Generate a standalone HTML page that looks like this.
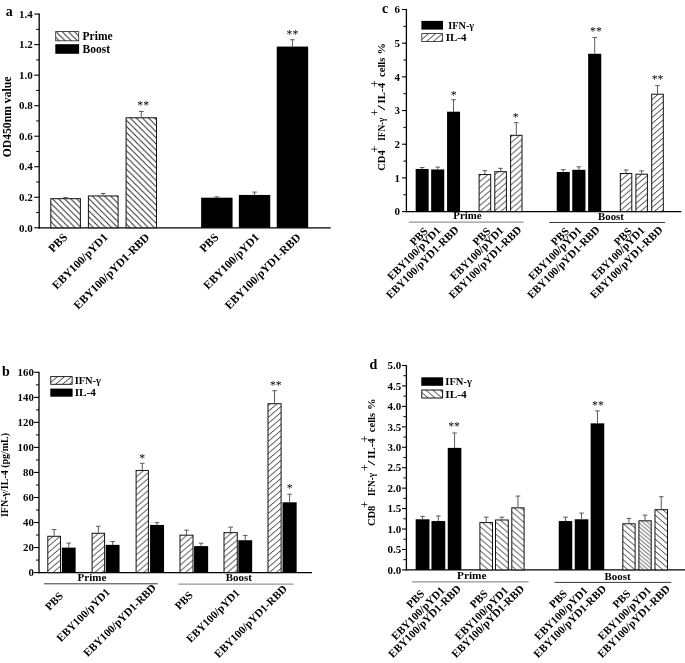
<!DOCTYPE html>
<html lang="en"><head><meta charset="utf-8"><title>Figure</title>
<style>html,body{margin:0;padding:0;background:#fff}svg{display:block}text{font-family:"Liberation Serif",serif;fill:#000}</style></head><body>
<svg width="685" height="663" viewBox="0 0 685 663">
<rect width="685" height="663" fill="#fff"/>
<defs>
<pattern id="hbA" patternUnits="userSpaceOnUse" width="6.1" height="6.1" x="0" y="0"><rect width="6.1" height="6.1" fill="#fff"/><path d="M-1.52,-1.52 L7.62,7.62 M-1.52,4.57 L1.52,7.62 M4.57,-1.52 L7.62,1.52" stroke="#1a1a1a" stroke-width="0.9"/></pattern>
<pattern id="hbD" patternUnits="userSpaceOnUse" width="6.98" height="6" x="0" y="0"><rect width="6.98" height="6" fill="#fff"/><path d="M-1.74,-1.5 L8.72,7.5 M-1.74,4.5 L1.74,7.5 M5.23,-1.5 L8.72,1.5" stroke="#1a1a1a" stroke-width="0.88"/></pattern>
<pattern id="hbD2" patternUnits="userSpaceOnUse" width="4.53" height="3.9" x="0" y="0"><rect width="4.53" height="3.9" fill="#fff"/><path d="M-1.13,-0.97 L5.67,4.88 M-1.13,2.92 L1.13,4.88 M3.4,-0.97 L5.67,0.97" stroke="#1a1a1a" stroke-width="0.75"/></pattern>
<pattern id="hs" patternUnits="userSpaceOnUse" width="6.98" height="6" x="0" y="0"><rect width="6.98" height="6" fill="#fff"/><path d="M-1.74,7.5 L8.72,-1.5 M-1.74,1.5 L1.74,-1.5 M5.23,7.5 L8.72,4.5" stroke="#1a1a1a" stroke-width="0.9"/></pattern>
</defs>
<text x="5.7" y="15.7" font-size="14" text-anchor="start" font-weight="bold">a</text>
<line x1="39.2" y1="13.5" x2="39.2" y2="228.4" stroke="#000" stroke-width="1.3"/>
<line x1="34.2" y1="227.8" x2="39.2" y2="227.8" stroke="#000" stroke-width="1.1"/>
<text x="32.7" y="231.5" font-size="11" text-anchor="end" font-weight="bold">0.0</text>
<line x1="36.2" y1="212.54" x2="39.2" y2="212.54" stroke="#000" stroke-width="1"/>
<line x1="34.2" y1="197.27" x2="39.2" y2="197.27" stroke="#000" stroke-width="1.1"/>
<text x="32.7" y="200.97" font-size="11" text-anchor="end" font-weight="bold">0.2</text>
<line x1="36.2" y1="182.01" x2="39.2" y2="182.01" stroke="#000" stroke-width="1"/>
<line x1="34.2" y1="166.74" x2="39.2" y2="166.74" stroke="#000" stroke-width="1.1"/>
<text x="32.7" y="170.44" font-size="11" text-anchor="end" font-weight="bold">0.4</text>
<line x1="36.2" y1="151.48" x2="39.2" y2="151.48" stroke="#000" stroke-width="1"/>
<line x1="34.2" y1="136.21" x2="39.2" y2="136.21" stroke="#000" stroke-width="1.1"/>
<text x="32.7" y="139.91" font-size="11" text-anchor="end" font-weight="bold">0.6</text>
<line x1="36.2" y1="120.95" x2="39.2" y2="120.95" stroke="#000" stroke-width="1"/>
<line x1="34.2" y1="105.69" x2="39.2" y2="105.69" stroke="#000" stroke-width="1.1"/>
<text x="32.7" y="109.39" font-size="11" text-anchor="end" font-weight="bold">0.8</text>
<line x1="36.2" y1="90.42" x2="39.2" y2="90.42" stroke="#000" stroke-width="1"/>
<line x1="34.2" y1="75.16" x2="39.2" y2="75.16" stroke="#000" stroke-width="1.1"/>
<text x="32.7" y="78.86" font-size="11" text-anchor="end" font-weight="bold">1.0</text>
<line x1="36.2" y1="59.89" x2="39.2" y2="59.89" stroke="#000" stroke-width="1"/>
<line x1="34.2" y1="44.63" x2="39.2" y2="44.63" stroke="#000" stroke-width="1.1"/>
<text x="32.7" y="48.33" font-size="11" text-anchor="end" font-weight="bold">1.2</text>
<line x1="36.2" y1="29.36" x2="39.2" y2="29.36" stroke="#000" stroke-width="1"/>
<line x1="34.2" y1="14.1" x2="39.2" y2="14.1" stroke="#000" stroke-width="1.1"/>
<text x="32.7" y="17.8" font-size="11" text-anchor="end" font-weight="bold">1.4</text>
<line x1="38.6" y1="227.8" x2="330.8" y2="227.8" stroke="#000" stroke-width="1.3"/>
<rect x="50.8" y="198.69" width="29.6" height="29.11" fill="url(#hbA)" stroke="#111" stroke-width="1"/>
<line x1="65.6" y1="198.19" x2="65.6" y2="197.58" stroke="#5a5a5a" stroke-width="1"/>
<line x1="63.3" y1="197.58" x2="67.9" y2="197.58" stroke="#5a5a5a" stroke-width="1"/>
<rect x="88.4" y="195.94" width="29.7" height="31.86" fill="url(#hbA)" stroke="#111" stroke-width="1"/>
<line x1="103.25" y1="195.44" x2="103.25" y2="193.46" stroke="#5a5a5a" stroke-width="1"/>
<line x1="100.95" y1="193.46" x2="105.55" y2="193.46" stroke="#5a5a5a" stroke-width="1"/>
<rect x="126.1" y="117.79" width="30.4" height="110.01" fill="url(#hbA)" stroke="#111" stroke-width="1"/>
<line x1="141.3" y1="117.29" x2="141.3" y2="111.49" stroke="#5a5a5a" stroke-width="1"/>
<line x1="139" y1="111.49" x2="143.6" y2="111.49" stroke="#5a5a5a" stroke-width="1"/>
<rect x="201.15" y="197.68" width="31.4" height="30.12" fill="#000" stroke="none" stroke-width="0.8"/>
<line x1="216.85" y1="197.88" x2="216.85" y2="196.81" stroke="#5a5a5a" stroke-width="1"/>
<line x1="214.55" y1="196.81" x2="219.15" y2="196.81" stroke="#5a5a5a" stroke-width="1"/>
<rect x="238.85" y="194.93" width="31.4" height="32.87" fill="#000" stroke="none" stroke-width="0.8"/>
<line x1="254.55" y1="195.13" x2="254.55" y2="192.08" stroke="#5a5a5a" stroke-width="1"/>
<line x1="252.25" y1="192.08" x2="256.85" y2="192.08" stroke="#5a5a5a" stroke-width="1"/>
<rect x="276.75" y="46.57" width="31.4" height="181.23" fill="#000" stroke="none" stroke-width="0.8"/>
<line x1="292.45" y1="46.77" x2="292.45" y2="39.74" stroke="#5a5a5a" stroke-width="1"/>
<line x1="290.15" y1="39.74" x2="294.75" y2="39.74" stroke="#5a5a5a" stroke-width="1"/>
<text x="143.2" y="108.6" font-size="11.7" text-anchor="middle" font-weight="normal" font-family="Liberation Sans, sans-serif" fill="#222">**</text>
<text x="292.4" y="37.7" font-size="11.7" text-anchor="middle" font-weight="normal" font-family="Liberation Sans, sans-serif" fill="#222">**</text>
<rect x="55.7" y="31.6" width="23" height="9.2" fill="url(#hbA)" stroke="#222" stroke-width="0.8"/>
<rect x="55.3" y="44.2" width="23.8" height="9.6" fill="#000" stroke="none" stroke-width="0.8"/>
<text x="82.6" y="39.8" font-size="11.5" text-anchor="start" font-weight="bold" textLength="30" lengthAdjust="spacingAndGlyphs">Prime</text>
<text x="82.6" y="53" font-size="11.5" text-anchor="start" font-weight="bold" textLength="27.5" lengthAdjust="spacingAndGlyphs">Boost</text>
<text x="10.8" y="157.3" font-size="11.8" text-anchor="start" font-weight="bold" transform="rotate(-90 10.8 157.3)" textLength="80.7" lengthAdjust="spacingAndGlyphs">OD450nm value</text>
<text x="68.1" y="238" font-size="11.6" text-anchor="end" font-weight="bold" transform="rotate(-45 68.1 238)">PBS</text>
<text x="108.65" y="238" font-size="11.6" text-anchor="end" font-weight="bold" transform="rotate(-45 108.65 238)">EBY100/pYD1</text>
<text x="150.2" y="238" font-size="11.6" text-anchor="end" font-weight="bold" transform="rotate(-45 150.2 238)">EBY100/pYD1-RBD</text>
<text x="219.35" y="238" font-size="11.6" text-anchor="end" font-weight="bold" transform="rotate(-45 219.35 238)">PBS</text>
<text x="259.95" y="238" font-size="11.6" text-anchor="end" font-weight="bold" transform="rotate(-45 259.95 238)">EBY100/pYD1</text>
<text x="301.35" y="238" font-size="11.6" text-anchor="end" font-weight="bold" transform="rotate(-45 301.35 238)">EBY100/pYD1-RBD</text>
<text x="381.9" y="12.6" font-size="14" text-anchor="start" font-weight="bold">c</text>
<line x1="406.4" y1="8.9" x2="406.4" y2="212.2" stroke="#000" stroke-width="1.3"/>
<line x1="402" y1="211.6" x2="406.4" y2="211.6" stroke="#000" stroke-width="1.1"/>
<text x="400" y="215.3" font-size="11" text-anchor="end" font-weight="bold">0</text>
<line x1="403.4" y1="194.76" x2="406.4" y2="194.76" stroke="#000" stroke-width="1"/>
<line x1="402" y1="177.92" x2="406.4" y2="177.92" stroke="#000" stroke-width="1.1"/>
<text x="400" y="181.62" font-size="11" text-anchor="end" font-weight="bold">1</text>
<line x1="403.4" y1="161.07" x2="406.4" y2="161.07" stroke="#000" stroke-width="1"/>
<line x1="402" y1="144.23" x2="406.4" y2="144.23" stroke="#000" stroke-width="1.1"/>
<text x="400" y="147.93" font-size="11" text-anchor="end" font-weight="bold">2</text>
<line x1="403.4" y1="127.39" x2="406.4" y2="127.39" stroke="#000" stroke-width="1"/>
<line x1="402" y1="110.55" x2="406.4" y2="110.55" stroke="#000" stroke-width="1.1"/>
<text x="400" y="114.25" font-size="11" text-anchor="end" font-weight="bold">3</text>
<line x1="403.4" y1="93.71" x2="406.4" y2="93.71" stroke="#000" stroke-width="1"/>
<line x1="402" y1="76.87" x2="406.4" y2="76.87" stroke="#000" stroke-width="1.1"/>
<text x="400" y="80.57" font-size="11" text-anchor="end" font-weight="bold">4</text>
<line x1="403.4" y1="60.03" x2="406.4" y2="60.03" stroke="#000" stroke-width="1"/>
<line x1="402" y1="43.18" x2="406.4" y2="43.18" stroke="#000" stroke-width="1.1"/>
<text x="400" y="46.88" font-size="11" text-anchor="end" font-weight="bold">5</text>
<line x1="403.4" y1="26.34" x2="406.4" y2="26.34" stroke="#000" stroke-width="1"/>
<line x1="402" y1="9.5" x2="406.4" y2="9.5" stroke="#000" stroke-width="1.1"/>
<text x="400" y="13.2" font-size="11" text-anchor="end" font-weight="bold">6</text>
<line x1="405.8" y1="211.6" x2="681.3" y2="211.6" stroke="#000" stroke-width="1.3"/>
<rect x="415.65" y="168.96" width="13" height="42.64" fill="#000" stroke="none" stroke-width="0.8"/>
<line x1="422.15" y1="169.16" x2="422.15" y2="167.47" stroke="#5a5a5a" stroke-width="1"/>
<line x1="419.85" y1="167.47" x2="424.45" y2="167.47" stroke="#5a5a5a" stroke-width="1"/>
<rect x="431.15" y="169.46" width="13.1" height="42.14" fill="#000" stroke="none" stroke-width="0.8"/>
<line x1="437.7" y1="169.66" x2="437.7" y2="167.14" stroke="#5a5a5a" stroke-width="1"/>
<line x1="435.4" y1="167.14" x2="440" y2="167.14" stroke="#5a5a5a" stroke-width="1"/>
<rect x="447.05" y="111.7" width="13" height="99.9" fill="#000" stroke="none" stroke-width="0.8"/>
<line x1="453.55" y1="111.9" x2="453.55" y2="99.77" stroke="#5a5a5a" stroke-width="1"/>
<line x1="451.25" y1="99.77" x2="455.85" y2="99.77" stroke="#5a5a5a" stroke-width="1"/>
<rect x="479.1" y="174.54" width="11.6" height="37.06" fill="url(#hs)" stroke="#111" stroke-width="1"/>
<line x1="484.9" y1="174.04" x2="484.9" y2="170.67" stroke="#5a5a5a" stroke-width="1"/>
<line x1="482.6" y1="170.67" x2="487.2" y2="170.67" stroke="#5a5a5a" stroke-width="1"/>
<rect x="494.8" y="171.68" width="11.6" height="39.92" fill="url(#hs)" stroke="#111" stroke-width="1"/>
<line x1="500.6" y1="171.18" x2="500.6" y2="168.32" stroke="#5a5a5a" stroke-width="1"/>
<line x1="498.3" y1="168.32" x2="502.9" y2="168.32" stroke="#5a5a5a" stroke-width="1"/>
<rect x="510.6" y="135.3" width="11.4" height="76.3" fill="url(#hs)" stroke="#111" stroke-width="1"/>
<line x1="516.3" y1="134.8" x2="516.3" y2="122.68" stroke="#5a5a5a" stroke-width="1"/>
<line x1="514" y1="122.68" x2="518.6" y2="122.68" stroke="#5a5a5a" stroke-width="1"/>
<rect x="556.75" y="171.99" width="13" height="39.61" fill="#000" stroke="none" stroke-width="0.8"/>
<line x1="563.25" y1="172.19" x2="563.25" y2="169.66" stroke="#5a5a5a" stroke-width="1"/>
<line x1="560.95" y1="169.66" x2="565.55" y2="169.66" stroke="#5a5a5a" stroke-width="1"/>
<rect x="572.25" y="169.8" width="13.2" height="41.8" fill="#000" stroke="none" stroke-width="0.8"/>
<line x1="578.85" y1="170" x2="578.85" y2="166.8" stroke="#5a5a5a" stroke-width="1"/>
<line x1="576.55" y1="166.8" x2="581.15" y2="166.8" stroke="#5a5a5a" stroke-width="1"/>
<rect x="588.15" y="53.76" width="13.1" height="157.84" fill="#000" stroke="none" stroke-width="0.8"/>
<line x1="594.7" y1="53.96" x2="594.7" y2="37.46" stroke="#5a5a5a" stroke-width="1"/>
<line x1="592.4" y1="37.46" x2="597" y2="37.46" stroke="#5a5a5a" stroke-width="1"/>
<rect x="620.3" y="173.47" width="11.5" height="38.13" fill="url(#hs)" stroke="#111" stroke-width="1"/>
<line x1="626.05" y1="172.97" x2="626.05" y2="170" stroke="#5a5a5a" stroke-width="1"/>
<line x1="623.75" y1="170" x2="628.35" y2="170" stroke="#5a5a5a" stroke-width="1"/>
<rect x="635.9" y="174.21" width="11.5" height="37.39" fill="url(#hs)" stroke="#111" stroke-width="1"/>
<line x1="641.65" y1="173.71" x2="641.65" y2="170.84" stroke="#5a5a5a" stroke-width="1"/>
<line x1="639.35" y1="170.84" x2="643.95" y2="170.84" stroke="#5a5a5a" stroke-width="1"/>
<rect x="651.7" y="94.21" width="11.6" height="117.39" fill="url(#hs)" stroke="#111" stroke-width="1"/>
<line x1="657.5" y1="93.71" x2="657.5" y2="85.62" stroke="#5a5a5a" stroke-width="1"/>
<line x1="655.2" y1="85.62" x2="659.8" y2="85.62" stroke="#5a5a5a" stroke-width="1"/>
<text x="453.6" y="99" font-size="11.7" text-anchor="middle" font-weight="normal" font-family="Liberation Sans, sans-serif" fill="#222">*</text>
<text x="515.7" y="121.1" font-size="11.7" text-anchor="middle" font-weight="normal" font-family="Liberation Sans, sans-serif" fill="#222">*</text>
<text x="595.9" y="35.1" font-size="11.7" text-anchor="middle" font-weight="normal" font-family="Liberation Sans, sans-serif" fill="#222">**</text>
<text x="657.5" y="83.4" font-size="11.7" text-anchor="middle" font-weight="normal" font-family="Liberation Sans, sans-serif" fill="#222">**</text>
<rect x="421.4" y="20.9" width="21.6" height="8.7" fill="#000" stroke="none" stroke-width="0.8"/>
<rect x="421.8" y="33.6" width="20.8" height="8" fill="url(#hs)" stroke="#222" stroke-width="0.8"/>
<text x="448.3" y="28.9" font-size="10.6" text-anchor="start" font-weight="bold" textLength="25.8" lengthAdjust="spacingAndGlyphs">IFN-γ</text>
<text x="445.8" y="41" font-size="10.6" text-anchor="start" font-weight="bold" textLength="20.7" lengthAdjust="spacingAndGlyphs">IL-4</text>
<text x="453.3" y="219" font-size="10.8" text-anchor="start" font-weight="bold" textLength="28.2" lengthAdjust="spacingAndGlyphs">Prime</text>
<text x="598.1" y="220" font-size="10.8" text-anchor="start" font-weight="bold" textLength="25.8" lengthAdjust="spacingAndGlyphs">Boost</text>
<line x1="408.8" y1="222.1" x2="523.6" y2="222.1" stroke="#959595" stroke-width="1.3"/>
<line x1="549.4" y1="222.5" x2="665" y2="222.5" stroke="#222" stroke-width="0.9"/>
<text x="428.65" y="231.8" font-size="11.1" text-anchor="end" font-weight="bold" transform="rotate(-45 428.65 231.8)">PBS</text>
<text x="441.4" y="231.1" font-size="11.1" text-anchor="end" font-weight="bold" transform="rotate(-45 441.4 231.1)">EBY100/pYD1</text>
<text x="459.35" y="230.5" font-size="11.1" text-anchor="end" font-weight="bold" transform="rotate(-45 459.35 230.5)">EBY100/pYD1-RBD</text>
<text x="491.4" y="231.8" font-size="11.1" text-anchor="end" font-weight="bold" transform="rotate(-45 491.4 231.8)">PBS</text>
<text x="504.3" y="231.1" font-size="11.1" text-anchor="end" font-weight="bold" transform="rotate(-45 504.3 231.1)">EBY100/pYD1</text>
<text x="522.1" y="230.5" font-size="11.1" text-anchor="end" font-weight="bold" transform="rotate(-45 522.1 230.5)">EBY100/pYD1-RBD</text>
<text x="569.75" y="231.8" font-size="11.1" text-anchor="end" font-weight="bold" transform="rotate(-45 569.75 231.8)">PBS</text>
<text x="582.55" y="231.1" font-size="11.1" text-anchor="end" font-weight="bold" transform="rotate(-45 582.55 231.1)">EBY100/pYD1</text>
<text x="600.5" y="230.5" font-size="11.1" text-anchor="end" font-weight="bold" transform="rotate(-45 600.5 230.5)">EBY100/pYD1-RBD</text>
<text x="632.55" y="231.8" font-size="11.1" text-anchor="end" font-weight="bold" transform="rotate(-45 632.55 231.8)">PBS</text>
<text x="645.35" y="231.1" font-size="11.1" text-anchor="end" font-weight="bold" transform="rotate(-45 645.35 231.1)">EBY100/pYD1</text>
<text x="663.3" y="230.5" font-size="11.1" text-anchor="end" font-weight="bold" transform="rotate(-45 663.3 230.5)">EBY100/pYD1-RBD</text>
<text x="385" y="170.8" font-size="11" text-anchor="start" font-weight="bold" transform="rotate(-90 385 170.8)" textLength="20.5" lengthAdjust="spacingAndGlyphs">CD4</text>
<text x="378.7" y="152.4" font-size="12" text-anchor="start" font-weight="normal" transform="rotate(-90 378.7 152.4)">+</text>
<text x="385" y="140.7" font-size="11" text-anchor="start" font-weight="bold" transform="rotate(-90 385 140.7)" textLength="23" lengthAdjust="spacingAndGlyphs">IFN-γ</text>
<text x="378.7" y="115.8" font-size="12" text-anchor="start" font-weight="normal" transform="rotate(-90 378.7 115.8)">+</text>
<text x="385" y="110.3" font-size="11" text-anchor="start" font-weight="bold" transform="rotate(-90 385 110.3)" textLength="5" lengthAdjust="spacingAndGlyphs">/</text>
<text x="385" y="103.4" font-size="11" text-anchor="start" font-weight="bold" transform="rotate(-90 385 103.4)" textLength="20.5" lengthAdjust="spacingAndGlyphs">IL-4</text>
<text x="378.7" y="87" font-size="12" text-anchor="start" font-weight="normal" transform="rotate(-90 378.7 87)">+</text>
<text x="385" y="76.9" font-size="11" text-anchor="start" font-weight="bold" transform="rotate(-90 385 76.9)" textLength="19.3" lengthAdjust="spacingAndGlyphs">cells</text>
<text x="385" y="54.6" font-size="11" text-anchor="start" font-weight="bold" transform="rotate(-90 385 54.6)" textLength="11.5" lengthAdjust="spacingAndGlyphs">%</text>
<text x="2" y="375.6" font-size="14" text-anchor="start" font-weight="bold">b</text>
<line x1="39" y1="371.7" x2="39" y2="573.2" stroke="#000" stroke-width="1.3"/>
<line x1="34" y1="572.6" x2="39" y2="572.6" stroke="#000" stroke-width="1.1"/>
<text x="33.8" y="576.3" font-size="10.8" text-anchor="end" font-weight="bold">0</text>
<line x1="36" y1="560.08" x2="39" y2="560.08" stroke="#000" stroke-width="1"/>
<line x1="34" y1="547.56" x2="39" y2="547.56" stroke="#000" stroke-width="1.1"/>
<text x="33.8" y="551.26" font-size="10.8" text-anchor="end" font-weight="bold">20</text>
<line x1="36" y1="535.04" x2="39" y2="535.04" stroke="#000" stroke-width="1"/>
<line x1="34" y1="522.52" x2="39" y2="522.52" stroke="#000" stroke-width="1.1"/>
<text x="33.8" y="526.23" font-size="10.8" text-anchor="end" font-weight="bold">40</text>
<line x1="36" y1="510.01" x2="39" y2="510.01" stroke="#000" stroke-width="1"/>
<line x1="34" y1="497.49" x2="39" y2="497.49" stroke="#000" stroke-width="1.1"/>
<text x="33.8" y="501.19" font-size="10.8" text-anchor="end" font-weight="bold">60</text>
<line x1="36" y1="484.97" x2="39" y2="484.97" stroke="#000" stroke-width="1"/>
<line x1="34" y1="472.45" x2="39" y2="472.45" stroke="#000" stroke-width="1.1"/>
<text x="33.8" y="476.15" font-size="10.8" text-anchor="end" font-weight="bold">80</text>
<line x1="36" y1="459.93" x2="39" y2="459.93" stroke="#000" stroke-width="1"/>
<line x1="34" y1="447.41" x2="39" y2="447.41" stroke="#000" stroke-width="1.1"/>
<text x="33.8" y="451.11" font-size="10.8" text-anchor="end" font-weight="bold">100</text>
<line x1="36" y1="434.89" x2="39" y2="434.89" stroke="#000" stroke-width="1"/>
<line x1="34" y1="422.38" x2="39" y2="422.38" stroke="#000" stroke-width="1.1"/>
<text x="33.8" y="426.07" font-size="10.8" text-anchor="end" font-weight="bold">120</text>
<line x1="36" y1="409.86" x2="39" y2="409.86" stroke="#000" stroke-width="1"/>
<line x1="34" y1="397.34" x2="39" y2="397.34" stroke="#000" stroke-width="1.1"/>
<text x="33.8" y="401.04" font-size="10.8" text-anchor="end" font-weight="bold">140</text>
<line x1="36" y1="384.82" x2="39" y2="384.82" stroke="#000" stroke-width="1"/>
<line x1="34" y1="372.3" x2="39" y2="372.3" stroke="#000" stroke-width="1.1"/>
<text x="33.8" y="376" font-size="10.8" text-anchor="end" font-weight="bold">160</text>
<line x1="38.4" y1="572.6" x2="312" y2="572.6" stroke="#000" stroke-width="1.3"/>
<rect x="47.8" y="536.29" width="12.7" height="36.31" fill="url(#hs)" stroke="#111" stroke-width="1"/>
<line x1="54.15" y1="535.79" x2="54.15" y2="529.54" stroke="#5a5a5a" stroke-width="1"/>
<line x1="51.85" y1="529.54" x2="56.45" y2="529.54" stroke="#5a5a5a" stroke-width="1"/>
<rect x="61.85" y="547.61" width="13.8" height="24.99" fill="#000" stroke="none" stroke-width="0.8"/>
<line x1="68.75" y1="547.81" x2="68.75" y2="543.06" stroke="#5a5a5a" stroke-width="1"/>
<line x1="66.45" y1="543.06" x2="71.05" y2="543.06" stroke="#5a5a5a" stroke-width="1"/>
<rect x="92.1" y="533.29" width="12.5" height="39.31" fill="url(#hs)" stroke="#111" stroke-width="1"/>
<line x1="98.35" y1="532.79" x2="98.35" y2="526.28" stroke="#5a5a5a" stroke-width="1"/>
<line x1="96.05" y1="526.28" x2="100.65" y2="526.28" stroke="#5a5a5a" stroke-width="1"/>
<rect x="105.75" y="544.86" width="13.8" height="27.74" fill="#000" stroke="none" stroke-width="0.8"/>
<line x1="112.65" y1="545.06" x2="112.65" y2="541.55" stroke="#5a5a5a" stroke-width="1"/>
<line x1="110.35" y1="541.55" x2="114.95" y2="541.55" stroke="#5a5a5a" stroke-width="1"/>
<rect x="136.1" y="470.45" width="12.3" height="102.15" fill="url(#hs)" stroke="#111" stroke-width="1"/>
<line x1="142.25" y1="469.95" x2="142.25" y2="463.31" stroke="#5a5a5a" stroke-width="1"/>
<line x1="139.95" y1="463.31" x2="144.55" y2="463.31" stroke="#5a5a5a" stroke-width="1"/>
<rect x="150.05" y="524.95" width="14" height="47.65" fill="#000" stroke="none" stroke-width="0.8"/>
<line x1="157.05" y1="525.15" x2="157.05" y2="522.65" stroke="#5a5a5a" stroke-width="1"/>
<line x1="154.75" y1="522.65" x2="159.35" y2="522.65" stroke="#5a5a5a" stroke-width="1"/>
<rect x="180" y="535.17" width="13" height="37.43" fill="url(#hs)" stroke="#111" stroke-width="1"/>
<line x1="186.5" y1="534.67" x2="186.5" y2="530.16" stroke="#5a5a5a" stroke-width="1"/>
<line x1="184.2" y1="530.16" x2="188.8" y2="530.16" stroke="#5a5a5a" stroke-width="1"/>
<rect x="194.05" y="546.11" width="14.1" height="26.49" fill="#000" stroke="none" stroke-width="0.8"/>
<line x1="201.1" y1="546.31" x2="201.1" y2="543.18" stroke="#5a5a5a" stroke-width="1"/>
<line x1="198.8" y1="543.18" x2="203.4" y2="543.18" stroke="#5a5a5a" stroke-width="1"/>
<rect x="224" y="532.66" width="13.3" height="39.94" fill="url(#hs)" stroke="#111" stroke-width="1"/>
<line x1="230.65" y1="532.16" x2="230.65" y2="527.16" stroke="#5a5a5a" stroke-width="1"/>
<line x1="228.35" y1="527.16" x2="232.95" y2="527.16" stroke="#5a5a5a" stroke-width="1"/>
<rect x="238.35" y="540.23" width="13.8" height="32.37" fill="#000" stroke="none" stroke-width="0.8"/>
<line x1="245.25" y1="540.43" x2="245.25" y2="535.42" stroke="#5a5a5a" stroke-width="1"/>
<line x1="242.95" y1="535.42" x2="247.55" y2="535.42" stroke="#5a5a5a" stroke-width="1"/>
<rect x="268" y="403.72" width="13.1" height="168.88" fill="url(#hs)" stroke="#111" stroke-width="1"/>
<line x1="274.55" y1="403.22" x2="274.55" y2="390.7" stroke="#5a5a5a" stroke-width="1"/>
<line x1="272.25" y1="390.7" x2="276.85" y2="390.7" stroke="#5a5a5a" stroke-width="1"/>
<rect x="282.55" y="502.3" width="14.1" height="70.31" fill="#000" stroke="none" stroke-width="0.8"/>
<line x1="289.6" y1="502.5" x2="289.6" y2="494.23" stroke="#5a5a5a" stroke-width="1"/>
<line x1="287.3" y1="494.23" x2="291.9" y2="494.23" stroke="#5a5a5a" stroke-width="1"/>
<text x="142.2" y="461.8" font-size="11.7" text-anchor="middle" font-weight="normal" font-family="Liberation Sans, sans-serif" fill="#222">*</text>
<text x="275.8" y="388.5" font-size="11.7" text-anchor="middle" font-weight="normal" font-family="Liberation Sans, sans-serif" fill="#222">**</text>
<text x="289.6" y="492.2" font-size="11.7" text-anchor="middle" font-weight="normal" font-family="Liberation Sans, sans-serif" fill="#222">*</text>
<rect x="50.75" y="376.6" width="21.4" height="7.7" fill="url(#hs)" stroke="#111" stroke-width="0.9"/>
<rect x="50.3" y="388.6" width="22.3" height="8.1" fill="#000" stroke="none" stroke-width="0.8"/>
<text x="74.7" y="383.6" font-size="10.6" text-anchor="start" font-weight="bold" textLength="26.2" lengthAdjust="spacingAndGlyphs">IFN-γ</text>
<text x="74.7" y="396.2" font-size="10.6" text-anchor="start" font-weight="bold" textLength="21.2" lengthAdjust="spacingAndGlyphs">IL-4</text>
<text x="77.6" y="581.2" font-size="10.8" text-anchor="start" font-weight="bold" textLength="28.7" lengthAdjust="spacingAndGlyphs">Prime</text>
<text x="225.7" y="581.2" font-size="10.8" text-anchor="start" font-weight="bold" textLength="26.2" lengthAdjust="spacingAndGlyphs">Boost</text>
<line x1="44" y1="583.8" x2="157.8" y2="583.8" stroke="#222" stroke-width="0.9"/>
<line x1="178.3" y1="584.2" x2="293.4" y2="584.2" stroke="#959595" stroke-width="1.3"/>
<text x="8" y="517" font-size="10.8" text-anchor="start" font-weight="bold" transform="rotate(-90 8 517)" textLength="84" lengthAdjust="spacingAndGlyphs">IFN-γ/IL-4 (pg/mL)</text>
<text x="63.85" y="596.7" font-size="11.1" text-anchor="end" font-weight="bold" transform="rotate(-45 63.85 596.7)">PBS</text>
<text x="110.65" y="592.8" font-size="11.1" text-anchor="end" font-weight="bold" transform="rotate(-45 110.65 592.8)">EBY100/pYD1</text>
<text x="156.7" y="588.5" font-size="11.1" text-anchor="end" font-weight="bold" transform="rotate(-45 156.7 588.5)">EBY100/pYD1-RBD</text>
<text x="193.7" y="595.9" font-size="11.1" text-anchor="end" font-weight="bold" transform="rotate(-45 193.7 595.9)">PBS</text>
<text x="240.4" y="593.5" font-size="11.1" text-anchor="end" font-weight="bold" transform="rotate(-45 240.4 593.5)">EBY100/pYD1</text>
<text x="287.55" y="589.6" font-size="11.1" text-anchor="end" font-weight="bold" transform="rotate(-45 287.55 589.6)">EBY100/pYD1-RBD</text>
<text x="369.4" y="368.6" font-size="14" text-anchor="start" font-weight="bold">d</text>
<line x1="406.4" y1="364.9" x2="406.4" y2="570.5" stroke="#000" stroke-width="1.3"/>
<line x1="402" y1="569.9" x2="406.4" y2="569.9" stroke="#000" stroke-width="1.1"/>
<text x="401.2" y="573.6" font-size="11" text-anchor="end" font-weight="bold">0.0</text>
<line x1="403.4" y1="559.68" x2="406.4" y2="559.68" stroke="#000" stroke-width="1"/>
<line x1="402" y1="549.46" x2="406.4" y2="549.46" stroke="#000" stroke-width="1.1"/>
<text x="401.2" y="553.16" font-size="11" text-anchor="end" font-weight="bold">0.5</text>
<line x1="403.4" y1="539.24" x2="406.4" y2="539.24" stroke="#000" stroke-width="1"/>
<line x1="402" y1="529.02" x2="406.4" y2="529.02" stroke="#000" stroke-width="1.1"/>
<text x="401.2" y="532.72" font-size="11" text-anchor="end" font-weight="bold">1.0</text>
<line x1="403.4" y1="518.8" x2="406.4" y2="518.8" stroke="#000" stroke-width="1"/>
<line x1="402" y1="508.58" x2="406.4" y2="508.58" stroke="#000" stroke-width="1.1"/>
<text x="401.2" y="512.28" font-size="11" text-anchor="end" font-weight="bold">1.5</text>
<line x1="403.4" y1="498.36" x2="406.4" y2="498.36" stroke="#000" stroke-width="1"/>
<line x1="402" y1="488.14" x2="406.4" y2="488.14" stroke="#000" stroke-width="1.1"/>
<text x="401.2" y="491.84" font-size="11" text-anchor="end" font-weight="bold">2.0</text>
<line x1="403.4" y1="477.92" x2="406.4" y2="477.92" stroke="#000" stroke-width="1"/>
<line x1="402" y1="467.7" x2="406.4" y2="467.7" stroke="#000" stroke-width="1.1"/>
<text x="401.2" y="471.4" font-size="11" text-anchor="end" font-weight="bold">2.5</text>
<line x1="403.4" y1="457.48" x2="406.4" y2="457.48" stroke="#000" stroke-width="1"/>
<line x1="402" y1="447.26" x2="406.4" y2="447.26" stroke="#000" stroke-width="1.1"/>
<text x="401.2" y="450.96" font-size="11" text-anchor="end" font-weight="bold">3.0</text>
<line x1="403.4" y1="437.04" x2="406.4" y2="437.04" stroke="#000" stroke-width="1"/>
<line x1="402" y1="426.82" x2="406.4" y2="426.82" stroke="#000" stroke-width="1.1"/>
<text x="401.2" y="430.52" font-size="11" text-anchor="end" font-weight="bold">3.5</text>
<line x1="403.4" y1="416.6" x2="406.4" y2="416.6" stroke="#000" stroke-width="1"/>
<line x1="402" y1="406.38" x2="406.4" y2="406.38" stroke="#000" stroke-width="1.1"/>
<text x="401.2" y="410.08" font-size="11" text-anchor="end" font-weight="bold">4.0</text>
<line x1="403.4" y1="396.16" x2="406.4" y2="396.16" stroke="#000" stroke-width="1"/>
<line x1="402" y1="385.94" x2="406.4" y2="385.94" stroke="#000" stroke-width="1.1"/>
<text x="401.2" y="389.64" font-size="11" text-anchor="end" font-weight="bold">4.5</text>
<line x1="403.4" y1="375.72" x2="406.4" y2="375.72" stroke="#000" stroke-width="1"/>
<line x1="402" y1="365.5" x2="406.4" y2="365.5" stroke="#000" stroke-width="1.1"/>
<text x="401.2" y="369.2" font-size="11" text-anchor="end" font-weight="bold">5.0</text>
<line x1="405.8" y1="569.9" x2="685" y2="569.9" stroke="#000" stroke-width="1.3"/>
<rect x="415.65" y="519.29" width="13.8" height="50.61" fill="#000" stroke="none" stroke-width="0.8"/>
<line x1="422.55" y1="519.49" x2="422.55" y2="516.35" stroke="#5a5a5a" stroke-width="1"/>
<line x1="420.25" y1="516.35" x2="424.85" y2="516.35" stroke="#5a5a5a" stroke-width="1"/>
<rect x="431.45" y="521.05" width="13.8" height="48.85" fill="#000" stroke="none" stroke-width="0.8"/>
<line x1="438.35" y1="521.25" x2="438.35" y2="515.94" stroke="#5a5a5a" stroke-width="1"/>
<line x1="436.05" y1="515.94" x2="440.65" y2="515.94" stroke="#5a5a5a" stroke-width="1"/>
<rect x="447.75" y="447.88" width="13.6" height="122.02" fill="#000" stroke="none" stroke-width="0.8"/>
<line x1="454.55" y1="448.08" x2="454.55" y2="432.95" stroke="#5a5a5a" stroke-width="1"/>
<line x1="452.25" y1="432.95" x2="456.85" y2="432.95" stroke="#5a5a5a" stroke-width="1"/>
<rect x="479.9" y="522.57" width="12.6" height="47.33" fill="url(#hbD)" stroke="#111" stroke-width="1"/>
<line x1="486.2" y1="522.07" x2="486.2" y2="517.16" stroke="#5a5a5a" stroke-width="1"/>
<line x1="483.9" y1="517.16" x2="488.5" y2="517.16" stroke="#5a5a5a" stroke-width="1"/>
<rect x="495.5" y="519.99" width="12.8" height="49.91" fill="url(#hbD)" stroke="#111" stroke-width="1"/>
<line x1="501.9" y1="519.49" x2="501.9" y2="517.16" stroke="#5a5a5a" stroke-width="1"/>
<line x1="499.6" y1="517.16" x2="504.2" y2="517.16" stroke="#5a5a5a" stroke-width="1"/>
<rect x="511.8" y="507.85" width="12.3" height="62.05" fill="url(#hbD)" stroke="#111" stroke-width="1"/>
<line x1="517.95" y1="507.35" x2="517.95" y2="496.07" stroke="#5a5a5a" stroke-width="1"/>
<line x1="515.65" y1="496.07" x2="520.25" y2="496.07" stroke="#5a5a5a" stroke-width="1"/>
<rect x="558.75" y="521.05" width="13.5" height="48.85" fill="#000" stroke="none" stroke-width="0.8"/>
<line x1="565.5" y1="521.25" x2="565.5" y2="517.16" stroke="#5a5a5a" stroke-width="1"/>
<line x1="563.2" y1="517.16" x2="567.8" y2="517.16" stroke="#5a5a5a" stroke-width="1"/>
<rect x="574.75" y="519.29" width="13.6" height="50.61" fill="#000" stroke="none" stroke-width="0.8"/>
<line x1="581.55" y1="519.49" x2="581.55" y2="513.08" stroke="#5a5a5a" stroke-width="1"/>
<line x1="579.25" y1="513.08" x2="583.85" y2="513.08" stroke="#5a5a5a" stroke-width="1"/>
<rect x="590.65" y="423.35" width="13.6" height="146.55" fill="#000" stroke="none" stroke-width="0.8"/>
<line x1="597.45" y1="423.55" x2="597.45" y2="410.88" stroke="#5a5a5a" stroke-width="1"/>
<line x1="595.15" y1="410.88" x2="599.75" y2="410.88" stroke="#5a5a5a" stroke-width="1"/>
<rect x="622.8" y="523.8" width="12.3" height="46.1" fill="url(#hbD)" stroke="#111" stroke-width="1"/>
<line x1="628.95" y1="523.3" x2="628.95" y2="518.39" stroke="#5a5a5a" stroke-width="1"/>
<line x1="626.65" y1="518.39" x2="631.25" y2="518.39" stroke="#5a5a5a" stroke-width="1"/>
<rect x="638.9" y="520.81" width="12.3" height="49.09" fill="url(#hbD2)" stroke="#111" stroke-width="1"/>
<line x1="645.05" y1="520.31" x2="645.05" y2="515.12" stroke="#5a5a5a" stroke-width="1"/>
<line x1="642.75" y1="515.12" x2="647.35" y2="515.12" stroke="#5a5a5a" stroke-width="1"/>
<rect x="655" y="509.69" width="12.5" height="60.21" fill="url(#hbD)" stroke="#111" stroke-width="1"/>
<line x1="661.25" y1="509.19" x2="661.25" y2="496.72" stroke="#5a5a5a" stroke-width="1"/>
<line x1="658.95" y1="496.72" x2="663.55" y2="496.72" stroke="#5a5a5a" stroke-width="1"/>
<text x="454.05" y="430.4" font-size="11.7" text-anchor="middle" font-weight="normal" font-family="Liberation Sans, sans-serif" fill="#222">**</text>
<text x="597.9" y="409.2" font-size="11.7" text-anchor="middle" font-weight="normal" font-family="Liberation Sans, sans-serif" fill="#222">**</text>
<rect x="421.3" y="377.3" width="21.8" height="8.5" fill="#000" stroke="none" stroke-width="0.8"/>
<rect x="421.8" y="390" width="20.8" height="8" fill="url(#hbD)" stroke="#111" stroke-width="1"/>
<text x="445.3" y="385" font-size="10.6" text-anchor="start" font-weight="bold" textLength="26.6" lengthAdjust="spacingAndGlyphs">IFN-γ</text>
<text x="445.3" y="397.6" font-size="10.6" text-anchor="start" font-weight="bold" textLength="21.4" lengthAdjust="spacingAndGlyphs">IL-4</text>
<text x="457" y="579.2" font-size="10.8" text-anchor="start" font-weight="bold" textLength="29.5" lengthAdjust="spacingAndGlyphs">Prime</text>
<text x="604.4" y="579.9" font-size="10.8" text-anchor="start" font-weight="bold" textLength="26.2" lengthAdjust="spacingAndGlyphs">Boost</text>
<line x1="412" y1="581.9" x2="528.6" y2="581.9" stroke="#959595" stroke-width="1.3"/>
<line x1="554.5" y1="582.4" x2="671.3" y2="582.4" stroke="#222" stroke-width="0.9"/>
<text x="425.05" y="594.4" font-size="11.1" text-anchor="end" font-weight="bold" transform="rotate(-45 425.05 594.4)">PBS</text>
<text x="445.35" y="591.1" font-size="11.1" text-anchor="end" font-weight="bold" transform="rotate(-45 445.35 591.1)">EBY100/pYD1</text>
<text x="461.55" y="589.6" font-size="11.1" text-anchor="end" font-weight="bold" transform="rotate(-45 461.55 589.6)">EBY100/pYD1-RBD</text>
<text x="488.7" y="594.4" font-size="11.1" text-anchor="end" font-weight="bold" transform="rotate(-45 488.7 594.4)">PBS</text>
<text x="508.9" y="591.1" font-size="11.1" text-anchor="end" font-weight="bold" transform="rotate(-45 508.9 591.1)">EBY100/pYD1</text>
<text x="524.95" y="589.6" font-size="11.1" text-anchor="end" font-weight="bold" transform="rotate(-45 524.95 589.6)">EBY100/pYD1-RBD</text>
<text x="568" y="594.4" font-size="11.1" text-anchor="end" font-weight="bold" transform="rotate(-45 568 594.4)">PBS</text>
<text x="588.55" y="591.1" font-size="11.1" text-anchor="end" font-weight="bold" transform="rotate(-45 588.55 591.1)">EBY100/pYD1</text>
<text x="606.95" y="589.6" font-size="11.1" text-anchor="end" font-weight="bold" transform="rotate(-45 606.95 589.6)">EBY100/pYD1-RBD</text>
<text x="631.45" y="594.4" font-size="11.1" text-anchor="end" font-weight="bold" transform="rotate(-45 631.45 594.4)">PBS</text>
<text x="652.05" y="591.1" font-size="11.1" text-anchor="end" font-weight="bold" transform="rotate(-45 652.05 591.1)">EBY100/pYD1</text>
<text x="670.75" y="589.6" font-size="11.1" text-anchor="end" font-weight="bold" transform="rotate(-45 670.75 589.6)">EBY100/pYD1-RBD</text>
<text x="375.2" y="526.1" font-size="11" text-anchor="start" font-weight="bold" transform="rotate(-90 375.2 526.1)" textLength="20.5" lengthAdjust="spacingAndGlyphs">CD8</text>
<text x="368.9" y="507.7" font-size="12" text-anchor="start" font-weight="normal" transform="rotate(-90 368.9 507.7)">+</text>
<text x="375.2" y="496" font-size="11" text-anchor="start" font-weight="bold" transform="rotate(-90 375.2 496)" textLength="23" lengthAdjust="spacingAndGlyphs">IFN-γ</text>
<text x="368.9" y="471.1" font-size="12" text-anchor="start" font-weight="normal" transform="rotate(-90 368.9 471.1)">+</text>
<text x="375.2" y="465.6" font-size="11" text-anchor="start" font-weight="bold" transform="rotate(-90 375.2 465.6)" textLength="5" lengthAdjust="spacingAndGlyphs">/</text>
<text x="375.2" y="458.7" font-size="11" text-anchor="start" font-weight="bold" transform="rotate(-90 375.2 458.7)" textLength="20.5" lengthAdjust="spacingAndGlyphs">IL-4</text>
<text x="368.9" y="442.3" font-size="12" text-anchor="start" font-weight="normal" transform="rotate(-90 368.9 442.3)">+</text>
<text x="375.2" y="432.2" font-size="11" text-anchor="start" font-weight="bold" transform="rotate(-90 375.2 432.2)" textLength="19.3" lengthAdjust="spacingAndGlyphs">cells</text>
<text x="375.2" y="409.9" font-size="11" text-anchor="start" font-weight="bold" transform="rotate(-90 375.2 409.9)" textLength="11.5" lengthAdjust="spacingAndGlyphs">%</text>
</svg></body></html>
